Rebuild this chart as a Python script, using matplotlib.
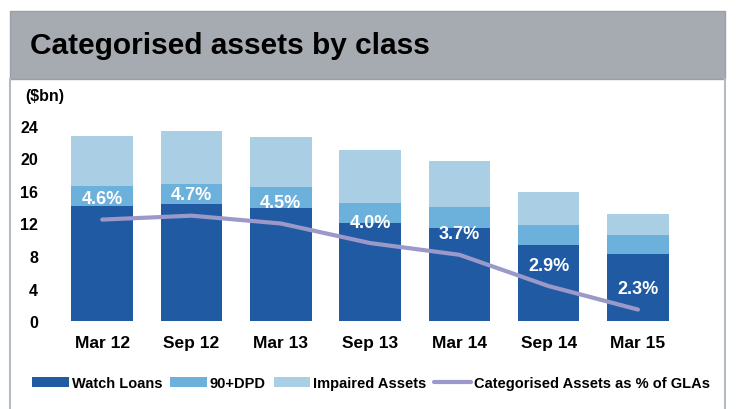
import matplotlib.pyplot as plt
from matplotlib.patches import Rectangle
import numpy as np

plt.rcParams['font.family'] = ['Liberation Sans', 'DejaVu Sans']

periods = ['Mar 12', 'Sep 12', 'Mar 13', 'Sep 13', 'Mar 14', 'Sep 14', 'Mar 15']
watch_loans = [14.15, 14.4, 13.9, 12.1, 11.5, 9.4, 8.3]
dpd_90 = [2.45, 2.45, 2.6, 2.45, 2.5, 2.4, 2.35]
impaired = [6.1, 6.55, 6.15, 6.45, 5.65, 4.1, 2.55]
pct_gla = [4.6, 4.7, 4.5, 4.0, 3.7, 2.9, 2.3]

c_watch = '#1F5AA3'
c_dpd = '#6CB0DC'
c_imp = '#AACFE4'
c_line = '#9B98CA'

fig = plt.figure(figsize=(7.38, 4.10), dpi=100)

# header band and frame
fig.patches.append(Rectangle((10/738, 1-80/410), 715/738, 68/410, transform=fig.transFigure,
                             facecolor='#A5ABB1', edgecolor='#9AA0A6', lw=1, zorder=0))
fig.lines.append(plt.Line2D([10/738, 10/738], [0, 1-80/410], transform=fig.transFigure, color='#B5BAC0', lw=1.5))
fig.lines.append(plt.Line2D([725/738, 725/738], [0, 1-80/410], transform=fig.transFigure, color='#B5BAC0', lw=1.5))
fig.text(30/738, 1-46/410, 'Categorised assets by class', fontsize=21.5, fontweight='bold',
         va='center', ha='left', color='black')
fig.text(25/738, 1-97/410, '($bn)', fontsize=11.5, fontweight='bold', va='center', ha='left')

ax = fig.add_axes([57.6/738, 1-322.3/410, 625/738, 195.6/410])
x = np.arange(len(periods))
w = 0.69
b1 = ax.bar(x, watch_loans, w, color=c_watch, label='Watch Loans')
b2 = ax.bar(x, dpd_90, w, bottom=watch_loans, color=c_dpd, label='90+DPD')
bottom2 = np.array(watch_loans) + np.array(dpd_90)
b3 = ax.bar(x, impaired, w, bottom=bottom2, color=c_imp, label='Impaired Assets')
ax.set_xlim(-0.5, 6.5)
ax.set_ylim(0, 24)
ax.set_yticks([0, 4, 8, 12, 16, 20, 24])
ax.set_xticks(x)
ax.set_xticklabels(periods)
for s in ax.spines.values():
    s.set_visible(False)
ax.tick_params(length=0)
ax.tick_params(axis='y', labelsize=11.5, pad=14)
ax.tick_params(axis='x', labelsize=12.5, pad=10)
for lbl in ax.get_xticklabels() + ax.get_yticklabels():
    lbl.set_fontweight('bold')

ax2 = ax.twinx()
ax2.set_ylim(2, 7)
ln, = ax2.plot(x, pct_gla, color=c_line, lw=3, solid_capstyle='round',
               label='Categorised Assets as % of GLAs')
for xi, p in zip(x, pct_gla):
    ax2.annotate(f'{p:.1f}%', (xi, p), xytext=(0, 15), textcoords='offset points',
                 ha='center', va='center', color='white', fontsize=13, fontweight='bold')
ax2.axis('off')

fig.legend(handles=[b1, b2, b3, ln], loc='center', bbox_to_anchor=(371/738, 1-384/410),
           ncol=4, frameon=False, handlelength=2.5, handletextpad=0.2,
           columnspacing=0.55, prop={'weight': 'bold', 'size': 10.5})
for h in fig.legends[0].legend_handles[:3]:
    h.set_height(7)

fig.savefig('out.png', dpi=100)
